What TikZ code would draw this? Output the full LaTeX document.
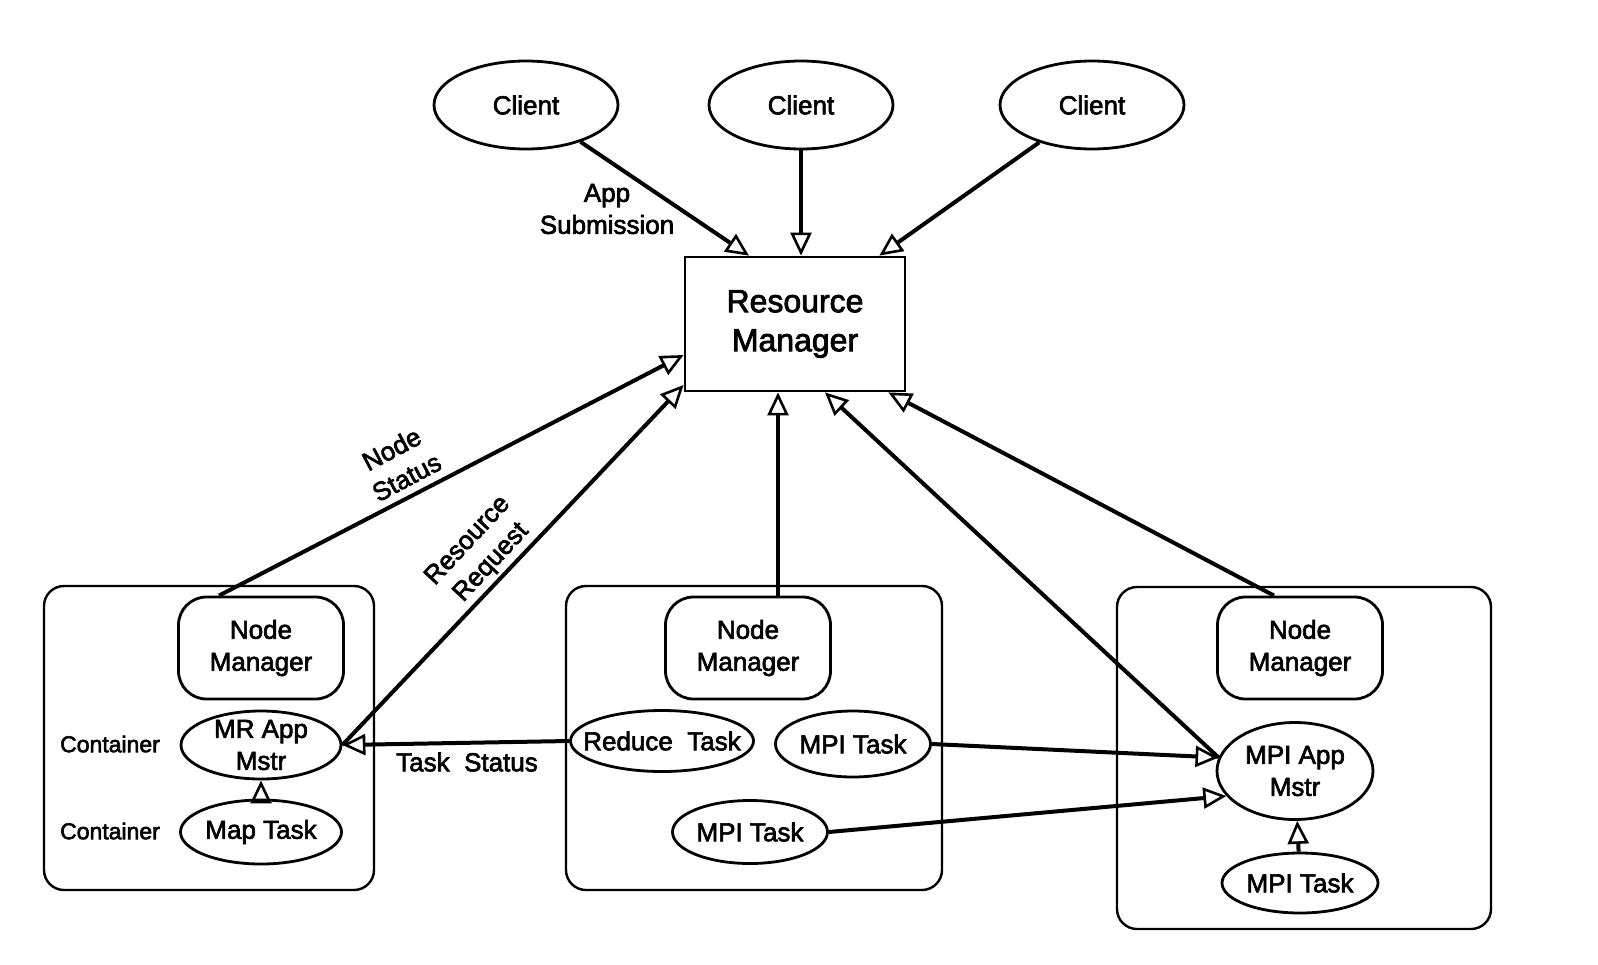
\documentclass[tikz,border=0pt]{standalone}
\usepackage{fontspec}
\setmainfont{Liberation Sans}[FakeBold=2.5]
\usetikzlibrary{shapes.geometric,arrows.meta}

\begin{document}
\begin{tikzpicture}[x=1pt,y=-1pt,
    lbl/.style={font=\fontsize{26}{32}\selectfont, align=center},
    client/.style={draw, ellipse, line width=2.8pt, minimum width=184pt, minimum height=88pt, lbl},
    task/.style={draw, ellipse, line width=2.8pt, inner xsep=-18pt, inner ysep=-12pt, lbl},
    nodemgr/.style={draw, rounded corners=28pt, line width=2.8pt, minimum width=165pt, minimum height=102pt, lbl},
    hostbox/.style={draw, rounded corners=20pt, line width=2.4pt},
    arr/.style={line width=4pt, -{Triangle[open, length=23pt, width=21pt, line width=2.6pt]}}]
    \useasboundingbox (0,0) rectangle (1598,964);

    % Clients and resource manager
    \node[client] (c1) at (526,105) {Client};
    \node[client] (c2) at (801,105) {Client};
    \node[client] (c3) at (1092,105) {Client};
    \node[draw, line width=2.8pt, minimum width=220pt, minimum height=134pt,
          font=\fontsize{32}{39}\selectfont, align=center] (rm) at (795,324) {Resource\\Manager};

    % Host boxes
    \draw[hostbox] (44,586) rectangle (374,890);
    \draw[hostbox] (566,586) rectangle (942,890);
    \draw[hostbox] (1117,587) rectangle (1491,929);

    % Left host
    \node[nodemgr] (nm1) at (261,648) {Node\\Manager};
    \node[task, minimum width=160pt, minimum height=68pt] (mram) at (261,745) {MR App\\Mstr};
    \node[task, minimum width=161pt, minimum height=64pt] (maptask) at (261,832) {Map Task};
    \node[font=\fontsize{23}{28}\selectfont] (ct1) at (110,744) {Container};
    \node[font=\fontsize{23}{28}\selectfont] (ct2) at (110,831) {Container};

    % Middle host
    \node[nodemgr] (nm2) at (748,648) {Node\\Manager};
    \node[task, minimum width=183pt, minimum height=61pt] (reduce) at (662,741) {Reduce\ \ Task};
    \node[task, minimum width=155pt, minimum height=66pt] (mpim) at (853,744) {MPI Task};
    \node[task, minimum width=155pt, minimum height=63pt] (mpib) at (750,832) {MPI Task};

    % Right host
    \node[nodemgr] (nm3) at (1300,648) {Node\\Manager};
    \node[task, minimum width=156pt, minimum height=97pt] (mpiam) at (1295,771) {MPI App\\Mstr};
    \node[task, minimum width=156pt, minimum height=60pt] (mpir) at (1300,883) {MPI Task};

    % App submission
    \draw[arr] (c1) -- ([xshift=-46pt]rm.north);
    \draw[arr] (c2) -- (c2 |- rm.north);
    \draw[arr] (c3) -- ([xshift=-27pt]rm.north east);
    \node[lbl] (appsub) at (607,209) {App\\Submission};

    % Status and requests to the resource manager
    \draw[arr] ([xshift=-42pt]nm1.north) -- ([yshift=-31pt]rm.west);
    \draw[arr] (mram.east) -- ([yshift=-61pt]rm.west);
    \draw[arr] ([xshift=30pt]nm2.north) -- ([xshift=30pt]nm2.north |- rm.south);
    \draw[arr] (mpiam.170) -- ([xshift=30pt]rm.south);
    \draw[arr] ([xshift=-26pt]nm3.north) -- ([xshift=-18pt]rm.south east);
    \node[lbl, rotate=28] (nstat) at (399,463) {Node\\Status};
    \node[lbl, rotate=47] (rreq) at (480,552) {Resource\\Request};

    % Task status to the app masters
    \draw[arr] (reduce.west) -- (mram.east);
    \draw[arr] (maptask) -- (mram);
    \draw[arr] (mpim.east) -- (mpiam.170);
    \draw[arr] (mpib.east) -- (mpiam.200);
    \draw[arr] (mpir) -- (mpiam);
    \node[lbl] (tstat) at (467,762) {Task\ \ Status};

\end{tikzpicture}
\end{document}
